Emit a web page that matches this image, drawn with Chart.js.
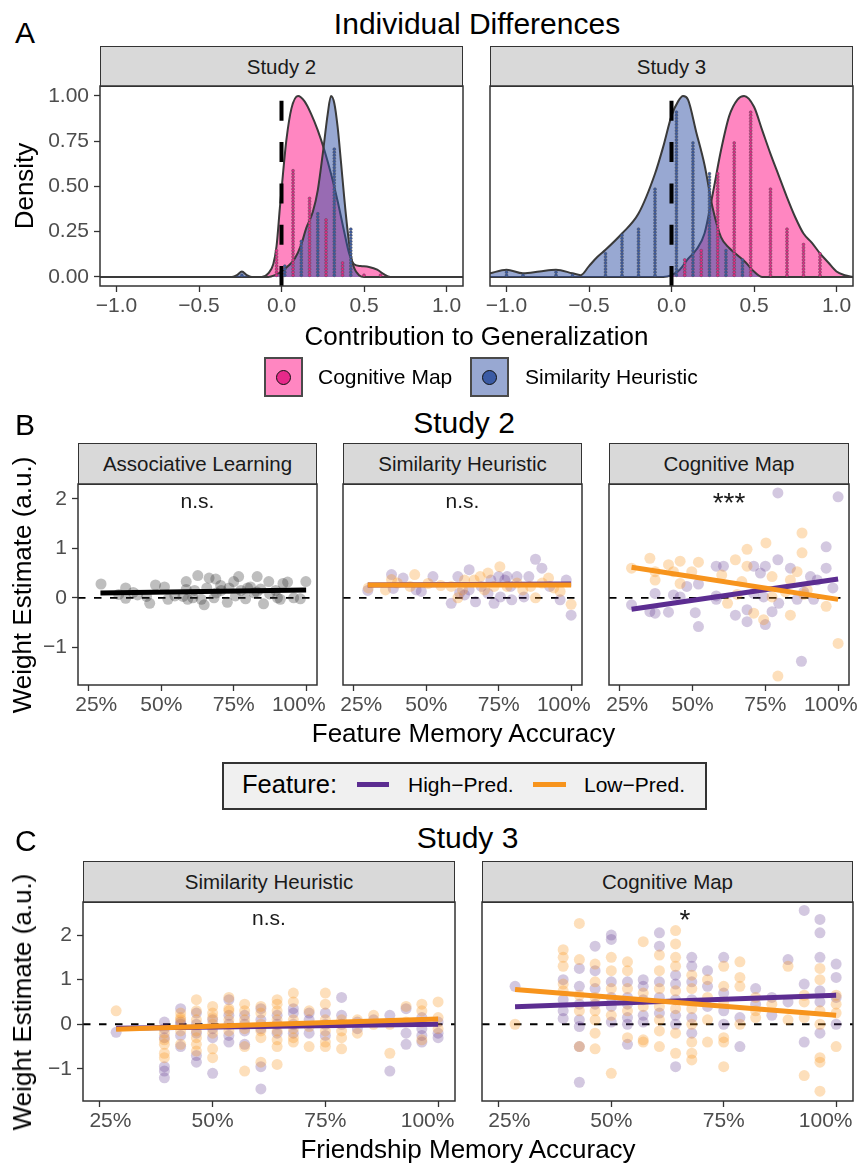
<!DOCTYPE html>
<html>
<head>
<meta charset="utf-8">
<script src="https://cdn.jsdelivr.net/npm/chart.js@4.4.0/dist/chart.umd.min.js"></script>
<style>
  body{margin:0;background:#fff;}
  #fig{position:relative;width:859px;height:1166px;overflow:hidden;font-family:'Liberation Sans',Arial,sans-serif;}
  .t{position:absolute;white-space:nowrap;color:#000;line-height:1;}
  .strip{position:absolute;box-sizing:border-box;background:#d9d9d9;border:1.5px solid #333;
         display:flex;align-items:center;justify-content:center;font-size:20.5px;color:#1a1a1a;}
  canvas{position:absolute;}
</style>
</head>
<body>
<div id="fig"></div>
<script>
const FONT = "'Liberation Sans', Arial, sans-serif";

// ---------- Panel A: densities (x = contribution, y = scaled density) ----------
const densTicksX = [-1, -0.5, 0, 0.5, 1];
const densTicksY = [0, 0.25, 0.5, 0.75, 1];

const cmS2X = [-1.1,-0.12,-0.08,-0.05,-0.03,-0.01,0.01,0.03,0.06,0.10,0.14,0.18,0.22,0.26,0.30,0.34,0.38,0.41,0.44,0.48,0.53,0.58,0.62,0.66,1.1];
const cmS2Y = [0,0,0.02,0.07,0.17,0.38,0.58,0.76,0.93,1.0,0.97,0.90,0.81,0.70,0.57,0.42,0.25,0.13,0.07,0.06,0.055,0.04,0.015,0,0];
const shS2X = [-1.1,-0.30,-0.27,-0.24,-0.21,-0.18,-0.08,-0.04,0.0,0.04,0.08,0.12,0.15,0.19,0.22,0.25,0.28,0.30,0.32,0.34,0.36,0.38,0.40,0.42,0.44,0.47,0.50,1.1];
const shS2Y = [0,0,0.01,0.03,0.01,0,0,0.01,0.03,0.06,0.10,0.18,0.27,0.36,0.48,0.68,0.90,1.0,0.96,0.83,0.64,0.44,0.26,0.12,0.05,0.01,0,0];
const shS3X = [-1.1,-1.0,-0.9,-0.8,-0.7,-0.6,-0.55,-0.5,-0.45,-0.4,-0.3,-0.2,-0.1,-0.05,0.0,0.04,0.07,0.1,0.15,0.2,0.25,0.3,0.35,0.4,0.45,0.5,0.55,1.1];
const shS3Y = [0.02,0.04,0.02,0.03,0.04,0.02,0.01,0.06,0.11,0.15,0.24,0.35,0.57,0.72,0.89,0.97,1.0,0.98,0.80,0.62,0.38,0.22,0.16,0.12,0.08,0.03,0,0];
const cmS3X = [-1.1,-0.05,0.0,0.05,0.1,0.15,0.2,0.25,0.3,0.35,0.4,0.44,0.5,0.55,0.6,0.65,0.7,0.75,0.8,0.85,0.9,0.95,1.0,1.05,1.1];
const cmS3Y = [0,0,0.01,0.04,0.10,0.15,0.24,0.46,0.70,0.89,0.98,1.0,0.94,0.81,0.68,0.56,0.44,0.33,0.24,0.19,0.13,0.08,0.03,0.01,0];

// dot-plot stacks (bin centre, stack height)
const cmS2DotX = [-0.03,0.07,0.17,0.27,0.37,0.50,0.60];
const cmS2DotH = [0.16,0.60,0.44,0.32,0.08,0.02,0.02];
const shS2DotX = [-0.24,0.02,0.12,0.22,0.32,0.42];
const shS2DotH = [0.02,0.06,0.20,0.36,0.72,0.28];
const shS3DotX = [-1.0,-0.9,-0.7,-0.6,-0.4,-0.3,-0.2,-0.1,0.03,0.13,0.23,0.33,0.43];
const shS3DotH = [0.04,0.01,0.04,0.01,0.14,0.24,0.28,0.50,0.92,0.74,0.57,0.16,0.11];
const cmS3DotX = [0.08,0.18,0.28,0.38,0.48,0.60,0.70,0.80,0.90];
const cmS3DotH = [0.11,0.15,0.57,0.74,0.92,0.50,0.28,0.19,0.14];

// ---------- Panel B: Study 2 (x = feature memory accuracy) ----------
const accTicks = [0.25, 0.5, 0.75, 1.0];
const weightTicks = [-1, 0, 1, 2];

const alX = [0.292,0.377,0.377,0.418,0.46,0.48,0.511,0.523,0.449,0.586,0.586,0.609,0.626,0.648,0.665,0.688,0.682,0.705,0.728,0.75,0.767,0.791,0.808,0.831,0.853,0.871,0.874,0.911,0.92,0.936,0.957,0.98,0.999,
             0.615,0.657,0.69,0.707,0.734,0.775,0.798,0.82,0.843,0.895,0.901,0.638,0.575,0.353,0.403,0.547,0.591,0.756,0.83];
const alY = [0.28,0.20,-0.01,0.06,-0.11,0.26,0.22,-0.03,0.03,0.33,0.17,0.0,0.45,-0.14,0.40,0.38,0.0,0.25,-0.09,0.33,0.43,-0.02,0.22,0.43,-0.12,0.33,0.08,-0.03,0.29,0.32,0.0,-0.02,0.33,
             0.15,0.2,0.1,0.15,0.2,0.15,0.2,0.1,0.18,0.15,0.0,-0.03,0.03,0.07,0.11,0.04,-0.03,0.04,0.12];
const alFit = [[0.29, 1.0], [0.10, 0.16]];

const shHighX = [0.298,0.38,0.386,0.42,0.465,0.483,0.523,0.586,0.609,0.615,0.632,0.648,0.67,0.69,0.734,0.723,0.75,0.756,0.779,0.795,0.813,0.837,0.854,0.877,0.899,0.926,0.962,0.983,1.0,0.713,0.771,0.791,0.648];
const shHighY = [0.15,0.47,0.19,0.40,0.16,0.13,0.43,-0.11,0.43,0.10,0.06,0.57,-0.08,0.23,-0.11,0.36,0.43,0.02,0.43,-0.04,0.43,0.02,0.43,0.78,0.60,0.23,-0.04,0.36,-0.35,0.09,0.36,0.23,0.16];
const shLowX = [0.30,0.38,0.359,0.46,0.506,0.444,0.586,0.609,0.665,0.686,0.713,0.734,0.754,0.779,0.813,0.86,0.877,0.922,0.962,1.0,0.632,0.833,0.701,0.625,0.40,0.55,0.90,0.94];
const shLowY = [0.20,0.37,0.16,0.47,0.29,0.23,0.23,0.0,0.36,0.43,0.50,0.23,0.63,0.23,0.30,0.23,0.0,0.40,0.13,-0.13,0.36,0.16,0.16,0.16,0.30,0.25,0.30,0.20];
const shHighFit = [[0.298, 1.0], [0.26, 0.28]];
const shLowFit = [[0.298, 1.0], [0.26, 0.26]];

const cmHighX = [0.793,1.0,0.959,0.793,0.581,0.606,0.71,0.75,0.733,0.836,0.959,0.48,0.52,0.371,0.29,0.353,0.371,0.417,0.434,0.457,0.509,0.52,0.581,0.647,0.687,0.687,0.75,0.773,0.796,0.859,0.916,0.905,0.982,0.874,0.581,0.744,0.71,0.882,0.928];
const cmHighY = [2.12,2.04,1.03,0.77,0.64,0.64,0.64,0.64,0.50,0.60,0.60,0.23,0.28,0.09,-0.14,-0.28,-0.31,-0.29,0.06,0.02,-0.30,-0.58,-0.03,-0.35,-0.24,-0.48,-0.54,-0.28,-0.11,-0.03,-0.03,0.43,0.20,-1.28,0.04,0.02,0.09,0.12,0.36];
const cmLowX = [0.876,0.752,0.687,0.876,0.353,0.417,0.457,0.52,0.29,0.371,0.434,0.497,0.647,0.687,0.859,0.773,0.60,0.669,0.457,0.371,0.62,0.71,0.744,0.773,0.836,0.882,0.894,0.959,1.0,0.793,0.653,0.819,0.836];
const cmLowY = [1.31,1.11,0.98,0.91,0.80,0.67,0.74,0.72,0.60,0.53,0.53,0.53,0.77,0.64,0.53,0.43,0.46,0.33,0.29,0.36,-0.11,-0.31,-0.44,0.02,-0.35,0.07,0.16,-0.17,-0.92,-1.58,0.07,0.12,0.36];
const cmHighFit = [[0.29, 1.0], [-0.23, 0.38]];
const cmLowFit = [[0.29, 1.0], [0.62, -0.03]];

// ---------- Panel C: Study 3 (x = friendship memory accuracy, discrete) ----------
const s3Acc = [0.286,0.393,0.429,0.464,0.5,0.536,0.571,0.607,0.643,0.679,0.714,0.75,0.786,0.821,0.857,0.893,0.929,0.964,1.0];
const c1High = [[-0.18],[0.05,-0.1,-0.3,-0.95,-1.05,-1.2],[0.35,0.05,0.0,-0.25,-0.5],[0.25,0.0,-0.2,-0.7,-0.85],[0.1,-0.1,-0.3,-1.1],
  [0.55,0.2,0.0,-0.25,-0.4],[0.2,0.0,-0.15,-0.45],[0.35,0.1,-0.1,-0.95,-1.45],[0.2,0.0,-0.2],[0.35,0.25,0.0,-0.2],[0.25,0.1,-0.2],
  [0.25,0.0,-0.25],[0.6,0.2,0.0],[0.05,-0.1],[0.1],[0.2,-1.05],[0.35,-0.2,-0.45],[0.15,-0.1,-0.25,-0.4],[0.05,-0.2,-0.3]];
const c1Low = [[0.3],[-0.2,-0.35,-0.45,-0.65,-0.75],[0.25,0.15,0.1,-0.15,-0.45],[0.55,0.3,0.1,-0.15,-0.3,-0.45,-0.6],[0.4,0.25,0.15,0.0,-0.2,-0.55,-0.75],
  [0.6,0.35,0.3,0.1,-0.15],[0.45,0.3,0.1,-0.1,-0.5,-1.05],[0.4,0.25,0.0,-0.15,-0.3,-0.85],[0.55,0.45,0.3,0.1,-0.15,-0.35,-0.5,-0.9],[0.7,0.5,0.1,-0.1,-0.3,-0.4],
  [0.3,-0.05,-0.5],[0.7,0.45,0.1,-0.15,-0.4,-0.5],[0.1,-0.15,-0.3,-0.55],[0.1,-0.2],[0.2,0.0],[0.0,-0.65],[0.4,0.05],[0.45,0.3,0.05,-0.35],[0.5,0.15,-0.1]];
const c1HighFit = [[0.286, 1.0], [-0.09, 0.0]];
const c1LowFit = [[0.286, 1.0], [-0.11, 0.12]];

const c2High = [[0.85],[1.0,0.55,0.3,0.13],[1.25,0.85,0.45,0.1,-0.05,-0.5,-1.3],[1.75,1.2,0.8,0.45],[2.0,1.9,0.95,0.6,0.4,0.05],
  [0.95,0.6,0.45,0.15,0.0,-0.45],[1.0,0.85,0.55,0.2,0.05],[2.05,1.75,0.95,0.6,0.25],[1.1,0.9,0.55,0.2,0.0,-0.95],[1.5,1.3,0.95,0.55,0.15,-0.2],
  [1.2,0.85,0.4],[1.5,0.7,0.3,0.0],[0.15,-0.5],[0.8,0.45],[0.6,0.2],[1.45,0.5],[2.55,0.9,-0.4],[2.35,2.05,1.5,0.75,0.5,-0.2],[1.35,1.05,0.6,0.0]];
const c2Low = [[0.0],[1.67,1.5,1.3,0.9,0.75],[2.26,1.45,0.65,0.3,-0.5],[1.35,0.95,0.6,0.3,0.1,-0.2,-0.55],[1.5,1.2,0.8,0.2,-1.1],
  [1.4,1.2,0.8,0.3,-0.3],[1.85,0.7,0.4,-0.35,-0.4],[1.55,1.2,0.8,0.4,0.1,-0.15,-0.5],[2.1,1.8,1.5,1.3,0.75,0.35,-0.2,-0.65],[1.1,0.8,0.35,0.0,-0.4,-0.65,-0.8],
  [1.0,0.6,0.1,-0.4],[1.3,0.85,0.5,-0.3,-0.4,-0.95],[1.4,1.05,0.85,0.0],[0.6,0.3,0.15],[0.45],[1.3,0.1],[0.65,0.5,0.15,-1.15],[1.25,1.0,0.3,0.0,-0.75,-0.85,-1.5],[0.65,0.45,0.25,-0.5]];
const c2HighFit = [[0.286, 1.0], [0.39, 0.65]];
const c2LowFit = [[0.286, 1.0], [0.78, 0.20]];

// ---------- colours ----------
const PINK_FILL = 'rgba(255,13,131,0.5)', BLUE_FILL = 'rgba(49,82,165,0.5)';
const PINK_DOT = '#e7298a', BLUE_DOT = '#3b5ba5';
const PURPLE = '#5c2d91', ORANGE = '#f7941d';
const PURPLE_PT = 'rgba(94,50,140,0.27)', ORANGE_PT = 'rgba(247,150,30,0.3)', GREY_PT = 'rgba(40,40,40,0.3)';

const fig = document.getElementById('fig');

// ---------- helpers ----------
function pts(xs, ys){ return xs.map((x,i)=>({x, y:ys[i]})); }
function cols(xs, groups){ const out=[]; groups.forEach((g,i)=>g.forEach(y=>out.push({x:xs[i], y}))); return out; }
function stacks(xs, hs){ const out=[]; xs.forEach((x,i)=>{ for(let y=0.009; y<=hs[i]+0.001; y+=0.017) out.push({x, y}); }); return out; }
const minus = s => String(s).replace('-', '\u2212');

const density = (xs, ys, fillCol) => ({data: pts(xs,ys), fill:'origin', backgroundColor: fillCol, borderColor:'#3a3a3a', borderWidth:2,
  pointRadius:0, cubicInterpolationMode:'monotone', clip:0});
const dots = (data, col) => ({data, showLine:false, pointRadius:1.45, pointBackgroundColor: col, pointBorderColor:'rgba(80,80,80,0.8)', pointBorderWidth:0.6, clip:0});
const scatter = (data, col) => ({data, showLine:false, pointRadius:5.5, pointBackgroundColor: col, pointBorderWidth:0, clip:0});
const fit = (seg, col) => ({data: pts(seg[0], seg[1]), borderColor: col, borderWidth:5, pointRadius:0, tension:0, fill:false, clip:0});
const zeroLine = (x0, x1) => ({data:[{x:x0,y:0},{x:x1,y:0}], borderColor:'#000', borderWidth:1.8, borderDash:[7.5,8.5], pointRadius:0, fill:false, clip:0});
const zeroV = (y0, y1) => ({data:[{x:0,y:y0},{x:0,y:y1}], borderColor:'#000', borderWidth:4, borderDash:[20,21.3], pointRadius:0, fill:false, clip:0});

const frame = { id:'frame', afterDatasetsDraw(c){ const a=c.chartArea, g=c.ctx; g.save(); g.strokeStyle='#333'; g.lineWidth=1.5;
  g.strokeRect(a.left, a.top, a.right-a.left, a.bottom-a.top); g.restore(); } };

function facet(cfg){
  const P = 30, XH = 42;
  const yw = cfg.yLabels ? cfg.yw : 0;
  const W = cfg.w + yw + 2*P, H = cfg.h + XH + 2*P;
  const cv = document.createElement('canvas');
  cv.width = W; cv.height = H;
  cv.style.left = (cfg.left - yw - P)+'px'; cv.style.top = (cfg.top - P)+'px';
  cv.style.width = W+'px'; cv.style.height = H+'px';
  fig.appendChild(cv);
  const tickFont = {family: FONT, size: 21};
  const ds = cfg.datasets.map((d,i,a)=>Object.assign({order: a.length - i}, d));
  new Chart(cv, {
    type:'line',
    data:{datasets: ds},
    options:{
      responsive:false, animation:false, devicePixelRatio:1, events:[],
      layout:{padding:{left:P, right:P, top:P, bottom:P}},
      plugins:{legend:{display:false}, tooltip:{enabled:false}},
      scales:{
        x:{type:'linear', min:cfg.xr[0], max:cfg.xr[1],
          afterBuildTicks: s=>{ s.ticks = cfg.xt.map(v=>({value:v})); },
          afterFit: s=>{ s.height = XH; },
          grid:{drawOnChartArea:false, tickLength:6, tickColor:'#333', tickWidth:1.3},
          border:{display:false},
          ticks:{color:'#4d4d4d', font:tickFont, padding:2, maxRotation:0, autoSkip:false, callback: (v,i,t)=>cfg.xf(v,i,t.length)}},
        y:{type:'linear', display: !!cfg.yLabels, min:cfg.yr[0], max:cfg.yr[1],
          afterBuildTicks: s=>{ s.ticks = cfg.yt.map(v=>({value:v})); },
          afterFit: s=>{ s.width = yw; },
          grid:{drawOnChartArea:false, tickLength:6, tickColor:'#333', tickWidth:1.3},
          border:{display:false},
          ticks:{color:'#4d4d4d', font:tickFont, padding:5, autoSkip:false, callback: v=>cfg.yf(v)}}
      }
    },
    plugins:[frame]
  });
}

function txt(s, x, base, size, align, color){
  const d = document.createElement('div'); d.className='t'; d.textContent = s;
  d.style.fontSize = size+'px'; d.style.top = (base - 0.847*size)+'px';
  if (color) d.style.color = color;
  d.style.left = x+'px';
  if (align==='center') d.style.transform='translateX(-50%)';
  fig.appendChild(d); return d;
}
function vtxt(s, cx, cy, size){
  const d = document.createElement('div'); d.className='t'; d.textContent = s;
  d.style.fontSize = size+'px'; d.style.left = cx+'px'; d.style.top = cy+'px';
  d.style.transform = 'translate(-50%,-50%) rotate(-90deg)';
  fig.appendChild(d);
}
function strip(s, l, t, w, h){
  const d = document.createElement('div'); d.className='strip'; d.textContent = s;
  Object.assign(d.style, {left:l+'px', top:t+'px', width:w+'px', height:h+'px'});
  fig.appendChild(d);
}
function box(l, t, w, h, css){
  const d = document.createElement('div'); d.style.position='absolute';
  Object.assign(d.style, {left:l+'px', top:t+'px', width:w+'px', height:h+'px', boxSizing:'border-box'}, css);
  fig.appendChild(d); return d;
}

// ================= Panel A =================
txt('A', 15, 43, 30, 'left');
txt('Individual Differences', 477, 34, 30, 'center');
strip('Study 2', 100, 46, 363, 41);
strip('Study 3', 490, 46, 363, 41);
const xrA = [-1.1, 1.1], yrA = [-0.05, 1.055];
facet({left:100, top:86, w:363, h:200, yLabels:true, yw:60, xr:xrA, yr:yrA, xt:densTicksX, yt:densTicksY,
  xf: v=>minus(v.toFixed(1)), yf: v=>v.toFixed(2),
  datasets:[density(cmS2X, cmS2Y, PINK_FILL), density(shS2X, shS2Y, BLUE_FILL), zeroV(yrA[0], yrA[1]),
            dots(stacks(cmS2DotX, cmS2DotH), PINK_DOT), dots(stacks(shS2DotX, shS2DotH), BLUE_DOT)]});
facet({left:490, top:86, w:363, h:200, yLabels:false, xr:xrA, yr:yrA, xt:densTicksX, yt:densTicksY,
  xf: v=>minus(v.toFixed(1)), yf: v=>v.toFixed(2),
  datasets:[density(cmS3X, cmS3Y, PINK_FILL), density(shS3X, shS3Y, BLUE_FILL), zeroV(yrA[0], yrA[1]),
            dots(stacks(cmS3DotX, cmS3DotH), PINK_DOT), dots(stacks(shS3DotX, shS3DotH), BLUE_DOT)]});
vtxt('Density', 24, 186, 26);
txt('Contribution to Generalization', 476.5, 345, 26, 'center');
// legend A
[[264, 'rgb(255,134,193)', PINK_DOT, 'Cognitive Map', 318], [470, 'rgb(152,168,210)', BLUE_DOT, 'Similarity Heuristic', 525]].forEach(l=>{
  box(l[0], 357, 39, 40, {background:l[1], border:'2px solid #4a4a4a'});
  box(l[0]+12, 370, 15, 15, {background:l[2], border:'1px solid #111', borderRadius:'50%'});
  txt(l[3], l[4], 384, 21, 'left');
});

// ================= Panel B / C shared axis formatting =================
const xrAcc = [0.2125, 1.0375];
// edge labels sit slightly inward of their ticks in the original
const pctFmtB = (v,i,n)=>(i===0 ? '\u2002\u2009' : '') + Math.round(v*100)+'%' + (i===n-1 ? '\u2002\u2009' : '');
const pctFmtC = (v,i,n)=>(i===0 ? '\u2003' : '') + Math.round(v*100)+'%' + (i===n-1 ? '\u2003' : '');
const wFmt = v=>minus(v);

// ================= Panel B =================
txt('B', 15, 435, 30, 'left');
txt('Study 2', 464, 433, 30, 'center');
strip('Associative Learning', 78, 443, 239, 42);
strip('Similarity Heuristic', 343, 443, 239, 42);
strip('Cognitive Map', 609, 443, 240, 42);
const yrB = [-1.76, 2.30];
facet({left:78, top:484, w:239, h:201, yLabels:true, yw:40, xr:xrAcc, yr:yrB, xt:accTicks, yt:weightTicks, xf:pctFmtB, yf:wFmt,
  datasets:[zeroLine(xrAcc[0], xrAcc[1]), scatter(pts(alX, alY), GREY_PT), fit(alFit, '#000')]});
facet({left:343, top:484, w:239, h:201, yLabels:false, xr:xrAcc, yr:yrB, xt:accTicks, yt:weightTicks, xf:pctFmtB, yf:wFmt,
  datasets:[zeroLine(xrAcc[0], xrAcc[1]), scatter(pts(shHighX, shHighY), PURPLE_PT), scatter(pts(shLowX, shLowY), ORANGE_PT),
            fit(shHighFit, PURPLE), fit(shLowFit, ORANGE)]});
facet({left:609, top:484, w:240, h:201, yLabels:false, xr:xrAcc, yr:yrB, xt:accTicks, yt:weightTicks, xf:pctFmtB, yf:wFmt,
  datasets:[zeroLine(xrAcc[0], xrAcc[1]), scatter(pts(cmHighX, cmHighY), PURPLE_PT), scatter(pts(cmLowX, cmLowY), ORANGE_PT),
            fit(cmHighFit, PURPLE), fit(cmLowFit, ORANGE)]});
txt('n.s.', 197.5, 508, 21, 'center', '#1a1a1a');
txt('n.s.', 462.5, 508, 21, 'center', '#1a1a1a');
txt('***', 729, 513, 28, 'center', '#1a1a1a');
vtxt('Weight Estimate (a.u.)', 22, 584.5, 26);
txt('Feature Memory Accuracy', 463.5, 742, 26, 'center');

// legend B
box(222, 762, 485, 48, {background:'#f0f0f0', border:'2px solid #333'});
txt('Feature:', 242, 794, 25.5, 'left');
box(357, 782, 32, 5, {background:PURPLE});
txt('High\u2212Pred.', 408, 792, 21, 'left');
box(533, 782, 33, 5, {background:ORANGE});
txt('Low\u2212Pred.', 584, 792, 21, 'left');

// ================= Panel C =================
txt('C', 15, 851, 30, 'left');
txt('Study 3', 467.5, 848, 30, 'center');
strip('Similarity Heuristic', 83, 861, 372, 42);
strip('Cognitive Map', 482, 861, 371, 42);
const yrC = [-1.72, 2.74];
facet({left:83, top:902, w:372, h:199, yLabels:true, yw:40, xr:xrAcc, yr:yrC, xt:accTicks, yt:weightTicks, xf:pctFmtC, yf:wFmt,
  datasets:[zeroLine(xrAcc[0], xrAcc[1]), scatter(cols(s3Acc, c1High), PURPLE_PT), scatter(cols(s3Acc, c1Low), ORANGE_PT),
            fit(c1HighFit, PURPLE), fit(c1LowFit, ORANGE)]});
facet({left:482, top:902, w:371, h:199, yLabels:false, xr:xrAcc, yr:yrC, xt:accTicks, yt:weightTicks, xf:pctFmtC, yf:wFmt,
  datasets:[zeroLine(xrAcc[0], xrAcc[1]), scatter(cols(s3Acc, c2High), PURPLE_PT), scatter(cols(s3Acc, c2Low), ORANGE_PT),
            fit(c2HighFit, PURPLE), fit(c2LowFit, ORANGE)]});
txt('n.s.', 269, 925, 21, 'center', '#1a1a1a');
txt('*', 685, 930, 28, 'center', '#1a1a1a');
vtxt('Weight Estimate (a.u.)', 22, 1001.5, 26);
txt('Friendship Memory Accuracy', 468, 1158, 26, 'center');
</script>
</body>
</html>
